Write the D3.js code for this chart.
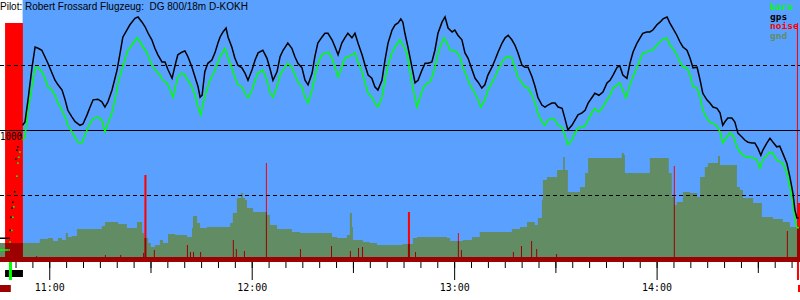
<!DOCTYPE html>
<html lang="de">
<head>
<meta charset="UTF-8">
<title>Barogramm D-KOKH</title>
<script src="https://cdn.jsdelivr.net/npm/d3@7"></script>
<style>
  body { margin: 0; background: #fff; }
  svg { display: block; }
</style>
</head>
<body>
<script>
    // minutes relative to 11:00, altitude in metres
    const title = "Pilot: Robert Frossard Flugzeug:  DG 800/18m D-KOKH";

    const gps = [
        [-14.6,175],[-12.2,175],[-11.9,175],
        [-11.6,235],[-11.4,335],[-11.1,405],[-10.8,450],[-10.2,530],[-9.9,780],[-9.6,850],[-9.3,875],[-8.4,965],
        [-7.9,1040],[-7.2,1065],[-6.3,1235],[-5.1,1485],[-4.2,1640],[-3.3,1630],[-2.2,1615],[-1.3,1565],[-0.4,1515],
        [0.8,1440],[1.7,1385],[2.6,1350],[3.8,1310],[4.7,1235],[5.5,1155],[6.7,1105],[7.6,1070],[9.1,1040],[10.0,1050],
        [11.2,1120],[12.1,1180],[13.0,1235],[14.4,1240],[15.6,1220],[16.5,1180],[17.4,1220],[18.6,1310],[20.1,1465],
        [21.0,1595],[21.8,1715],[23.0,1770],[23.9,1810],[25.4,1860],[26.3,1870],[27.5,1830],[28.4,1795],[29.3,1745],
        [30.4,1695],[31.3,1630],[32.2,1580],[33.4,1525],[34.3,1525],[35.2,1465],[36.4,1400],[37.3,1500],[38.1,1580],
        [39.3,1600],[40.2,1610],[41.1,1565],[42.3,1485],[43.2,1410],[44.1,1335],[44.7,1255],[45.3,1270],[46.1,1450],
        [47.0,1515],[48.2,1540],[49.1,1595],[50.0,1670],[50.6,1715],[51.5,1755],[52.4,1785],[53.0,1715],[54.1,1640],
        [55.0,1555],[55.9,1500],[57.1,1480],[58.0,1440],[58.9,1385],[60.1,1465],[61.0,1540],[61.9,1595],[63.3,1615],
        [64.5,1555],[65.5,1465],[66.3,1385],[67.5,1450],[68.4,1565],[69.3,1615],[70.7,1670],[71.9,1630],[72.8,1565],
        [73.7,1515],[74.9,1480],[75.8,1385],[76.7,1350],[77.9,1440],[78.7,1565],[79.6,1670],[80.8,1715],[81.7,1745],
        [82.6,1745],[83.8,1695],[84.7,1640],[85.6,1580],[86.7,1670],[87.6,1710],[88.5,1745],[89.7,1710],[90.6,1745],
        [91.5,1670],[92.7,1580],[93.6,1500],[94.5,1425],[95.6,1400],[96.5,1335],[97.4,1310],[98.6,1385],[99.5,1540],
        [100.4,1670],[101.6,1770],[102.5,1810],[103.4,1825],[104.2,1855],[104.8,1830],[105.4,1745],[106.3,1640],
        [107.5,1485],[108.4,1365],[109.3,1385],[110.5,1465],[111.4,1515],[112.3,1515],[113.4,1525],[114.3,1615],
        [115.2,1745],[116.4,1830],[117.3,1870],[118.2,1785],[119.4,1755],[120.2,1770],[121.1,1730],[122.3,1695],
        [123.2,1595],[124.1,1555],[125.3,1465],[126.2,1400],[127.1,1370],[128.2,1325],[129.1,1350],[130.0,1425],
        [131.2,1485],[132.1,1540],[133.0,1600],[134.2,1670],[135.1,1710],[136.0,1730],[137.1,1695],[138.0,1655],
        [138.9,1595],[140.1,1500],[141.0,1485],[141.9,1485],[143.1,1410],[144.0,1335],[144.8,1255],[146.0,1195],
        [146.9,1180],[147.8,1195],[149.0,1210],[149.9,1210],[150.8,1180],[152.0,1170],[152.8,1095],[153.7,1005],
        [154.9,1040],[155.8,1080],[156.7,1120],[157.9,1135],[158.8,1155],[159.7,1210],[160.9,1255],[161.7,1285],
        [162.9,1270],[164.1,1295],[165.3,1365],[166.2,1385],[167.1,1425],[168.3,1485],[169.1,1495],[170.0,1425],
        [171.2,1400],[172.1,1515],[173.0,1600],[174.2,1670],[175.1,1710],[175.9,1745],[177.1,1755],[178.0,1755],
        [178.9,1770],[180.1,1810],[181.0,1830],[181.9,1855],[183.1,1870],[183.9,1825],[184.8,1785],[186.0,1730],
        [186.9,1680],[187.8,1640],[189.0,1615],[189.9,1555],[190.8,1480],[192.0,1485],[192.9,1385],[193.7,1285],
        [194.9,1235],[195.8,1210],[196.7,1180],[197.9,1170],[198.8,1135],[199.6,1040],[200.2,1065],[201.1,1095],
        [202.3,1095],[203.2,1065],[204.1,980],[205.3,950],[206.2,925],[207.1,910],[208.3,905],[209.1,905],
        [210.0,865],[210.9,810],[211.5,850],[212.7,905],[213.6,940],[214.5,910],[215.6,875],[216.5,880],
        [217.4,825],[218.6,750],[219.5,645],[220.4,520],[221.0,390],[221.6,330],[222.2,330]
    ];

    const baro = [
        [-14.6,85],[-12.2,85],[-11.9,85],
        [-11.6,145],[-11.1,235],[-10.8,335],[-10.5,415],[-10.2,530],[-9.6,650],[-9.3,750],[-9.0,795],[-8.7,835],
        [-7.8,925],[-7.2,950],[-6.3,1155],[-5.1,1335],[-4.2,1480],[-3.3,1485],[-2.2,1450],[-1.3,1400],[-0.4,1335],
        [0.8,1310],[1.7,1270],[2.6,1210],[3.8,1155],[4.7,1105],[5.5,1040],[6.7,990],[7.6,950],[8.5,910],[9.7,905],
        [10.6,965],[11.5,1025],[12.7,1080],[13.5,1095],[14.4,1105],[15.6,1080],[16.5,990],[17.4,1055],[18.6,1135],
        [19.5,1235],[20.4,1365],[21.5,1465],[22.4,1540],[23.3,1615],[24.5,1655],[26.0,1710],[26.9,1680],[27.8,1640],
        [28.9,1600],[29.8,1540],[30.7,1485],[31.9,1450],[32.8,1425],[33.7,1385],[34.9,1365],[35.8,1310],[36.7,1255],
        [37.3,1325],[38.1,1410],[39.3,1440],[40.2,1425],[41.1,1385],[42.3,1335],[43.2,1270],[44.1,1180],[44.9,1120],
        [45.6,1210],[46.7,1310],[47.6,1385],[48.5,1425],[49.7,1500],[50.6,1565],[52.1,1630],[53.0,1555],[54.1,1480],
        [55.0,1410],[55.9,1350],[57.1,1335],[58.0,1285],[58.9,1250],[60.1,1310],[61.0,1385],[61.9,1440],[63.3,1465],
        [64.5,1385],[65.5,1285],[66.3,1255],[67.5,1335],[68.4,1425],[69.3,1465],[70.7,1515],[71.9,1485],[72.8,1425],
        [73.7,1370],[74.9,1335],[75.8,1255],[76.7,1210],[77.9,1310],[78.7,1410],[79.6,1515],[80.8,1580],[81.7,1595],
        [82.6,1600],[83.8,1555],[84.7,1485],[85.6,1410],[86.7,1485],[87.6,1555],[88.5,1565],[89.7,1580],[90.6,1595],
        [91.5,1525],[92.7,1450],[93.6,1365],[94.5,1285],[95.6,1255],[96.5,1210],[97.4,1180],[98.6,1255],[99.5,1385],
        [100.4,1500],[101.6,1595],[102.5,1640],[103.9,1695],[104.8,1655],[106.0,1595],[106.9,1450],[107.8,1325],
        [109.0,1180],[109.9,1255],[110.8,1325],[112.0,1365],[112.8,1370],[113.7,1425],[114.9,1555],[115.8,1640],
        [117.0,1710],[117.9,1670],[118.8,1615],[119.6,1615],[120.8,1600],[121.7,1565],[122.6,1485],[123.8,1410],
        [124.7,1350],[125.6,1310],[126.8,1255],[127.9,1180],[129.1,1235],[130.0,1310],[131.2,1365],[132.1,1410],
        [133.0,1465],[134.2,1525],[135.1,1555],[136.0,1570],[137.1,1555],[138.0,1485],[138.9,1410],[140.1,1365],
        [141.0,1335],[141.9,1325],[143.1,1270],[144.0,1210],[144.8,1135],[146.0,1065],[146.9,1040],[147.8,1080],
        [149.0,1095],[149.9,1080],[150.8,1040],[152.0,1025],[152.8,965],[153.7,890],[154.9,925],[155.8,980],
        [156.7,1020],[157.9,1025],[158.8,1035],[159.7,1080],[160.9,1140],[161.7,1170],[162.9,1140],[164.1,1180],
        [165.3,1235],[166.2,1270],[167.1,1325],[168.3,1350],[169.1,1365],[170.0,1310],[170.9,1250],[172.1,1350],
        [173.0,1410],[174.2,1485],[175.1,1540],[175.9,1595],[177.1,1600],[178.0,1615],[178.9,1615],[180.1,1655],
        [181.0,1680],[181.9,1700],[183.1,1710],[183.9,1655],[184.8,1630],[186.0,1580],[186.9,1525],[187.8,1485],
        [189.0,1480],[189.9,1425],[190.8,1335],[192.0,1325],[192.9,1255],[193.7,1155],[194.9,1095],[195.8,1065],
        [196.7,1055],[197.9,1035],[198.8,990],[199.6,905],[200.8,950],[201.7,980],[202.6,965],[203.8,875],
        [204.7,835],[205.6,810],[206.8,795],[207.7,795],[208.6,790],[209.7,775],[210.6,710],[211.5,775],
        [212.7,810],[213.6,835],[214.5,825],[215.6,775],[216.5,760],[217.4,750],[218.6,675],[219.5,565],
        [220.4,445],[221.0,315],[221.6,255],[222.2,255]
    ];

    // ground elevation under the track (held until next sample)
    const gnd = [
        [-14.6,138],[-2.8,169],[-0.4,176],[1.1,153],[2.6,176],[3.8,161],[4.9,214],[5.5,184],[6.7,192],[8.2,245],
        [15.6,268],[16.5,299],[20.4,283],[23.0,253],[26.0,299],[27.5,214],[28.1,176],[29.3,138],[30.1,107],[31.3,123],
        [32.8,161],[33.7,138],[35.2,207],[37.3,199],[40.8,184],[42.3,253],[42.6,345],[43.8,291],[44.7,253],[46.7,260],
        [53.6,291],[54.4,368],[55.6,483],[56.8,521],[57.4,483],[58.0,467],[58.6,406],[60.4,375],[64.5,352],[65.4,276],
        [67.5,245],[71.9,222],[74.3,214],[83.8,184],[85.3,176],[88.2,199],[89.1,368],[89.7,260],[90.0,161],[93.0,146],
        [95.0,138],[97.1,123],[104.8,130],[107.8,176],[109.0,184],[117.9,176],[118.8,153],[122.6,161],[125.3,184],
        [127.6,222],[137.1,245],[139.5,260],[141.6,299],[143.9,276],[144.8,329],[146.0,467],[146.3,620],[147.5,643],
        [150.5,697],[152.3,797],[152.8,697],[153.7,528],[157.3,567],[158.8,674],[159.7,789],[169.7,827],[170.3,812],
        [170.6,674],[178.0,789],[183.6,674],[184.5,490],[185.4,429],[186.0,452],[187.8,528],[189.9,521],[192.0,490],
        [192.9,643],[194.3,720],[195.2,751],[198.2,805],[198.8,735],[203.8,567],[204.7,544],[205.6,483],[208.6,444],
        [211.2,337],[214.5,322],[217.4,299],[219.5,260],[222.5,260]
    ];

    // engine noise level 0..1000 (held until next sample)
    const noise = [
        [-14.6,19],[-13.1,912],[-7.8,19],[-3.9,23],[-3.6,19],[16.5,27],[16.8,19],[21.0,27],[21.3,19],
        [27.8,34],[28.1,19],[28.2,332],[28.8,19],[31.0,46],[31.3,19],[40.8,65],[41.1,19],[41.7,38],[42.0,19],
        [42.6,38],[42.9,19],[44.7,38],[45.0,19],[54.4,84],[54.7,19],[55.3,50],[55.6,19],[57.7,42],[58.0,19],
        [64.2,378],[64.5,19],[74.3,50],[74.6,19],[83.5,61],[83.8,19],[89.1,42],[89.4,19],[91.5,53],[91.8,19],
        [92.7,57],[93.0,19],[106.3,191],[106.9,19],[108.4,38],[108.7,19],[121.1,111],[121.4,19],[122.0,46],[122.3,19],
        [137.4,38],[137.7,19],[139.8,61],[140.1,19],[142.8,80],[143.1,19],[144.3,50],[144.6,19],[150.2,31],[150.5,19],
        [185.1,366],[185.4,19],[218.6,118],[218.9,19],[221.6,912],[221.9,225],[222.5,225]
    ];

    const refLines = [500, 1000, 1500];
    const takeoff = -11.5, release = -7.9, landing = 221.9;
    const engineRun = [-13.1, -7.8];
    const legendNames = ["baro", "gps", "noise", "gnd"];
    const legendColors = {"baro": "#00ff00", "gps": "#000000", "noise": "#ff0000", "gnd": "#628c64"};

    let W = 800, H = 300, bottom = 262;
    let svg = d3.select('body').append('svg')
        .attr('width', W).attr('height', H)
        .style('font-family', 'DejaVu Sans Mono, monospace');

    let x = d3.scaleLinear().domain([-14.6, 222.5]).range([0, W]);
    let y = d3.scaleLinear().domain([0, 2000]).range([261, 0]);
    let yN = d3.scaleLinear().domain([0, 1000]).range([bottom, 0]);

    // sky
    svg.append('rect')
        .attr('x', x(release)).attr('y', 0)
        .attr('width', W - x(release)).attr('height', bottom)
        .attr('fill', '#5aa0ff');

    let noiseArea = d3.area().curve(d3.curveStepAfter)
        .x(d => x(d[0])).y0(bottom).y1(d => yN(d[1]));
    let gndArea = d3.area().curve(d3.curveStepAfter)
        .x(d => x(d[0])).y0(bottom).y1(d => y(d[1]));

    svg.append('defs').append('clipPath').attr('id', 'gndclip')
        .append('path').attr('d', gndArea(gnd));

    svg.append('path').attr('d', noiseArea(noise)).attr('fill', '#ff0000');
    svg.append('path').attr('d', gndArea(gnd)).attr('fill', legendColors.gnd);
    svg.append('path').attr('d', noiseArea(noise)).attr('fill', '#9c0000')
        .attr('clip-path', 'url(#gndclip)');

    // reference altitudes
    svg.selectAll('line.ref')
        .data(refLines)
        .enter()
        .append('line')
        .attr('class', 'ref')
        .attr('x1', 0).attr('x2', W)
        .attr('y1', d => Math.floor(y(d)) + 0.5)
        .attr('y2', d => Math.floor(y(d)) + 0.5)
        .attr('stroke', '#000')
        .attr('stroke-width', 1)
        .attr('stroke-dasharray', d => d === 1000 ? null : '4,3');

    svg.append('text')
        .attr('x', 0).attr('y', 140)
        .attr('font-size', '10px')
        .attr('textLength', 22).attr('lengthAdjust', 'spacingAndGlyphs')
        .text('1000');

    // barogram lines; tow climb drawn as single fixes
    let inTow = d => d[0] > takeoff - 0.5 && d[0] < release;
    let altLine = d3.line().defined(d => !inTow(d))
        .x(d => x(d[0])).y(d => y(d[1]));

    [['baro', baro], ['gps', gps]].forEach(function (s) {
        svg.append('path')
            .attr('d', altLine(s[1]))
            .attr('fill', 'none')
            .attr('stroke', legendColors[s[0]])
            .attr('stroke-width', 1.5);
        svg.selectAll('rect.dot-' + s[0])
            .data(s[1].filter(inTow))
            .enter()
            .append('rect')
            .attr('class', 'dot-' + s[0])
            .attr('x', d => x(d[0]) - 0.8)
            .attr('y', d => y(d[1]) - 0.8)
            .attr('width', 1.6).attr('height', 1.6)
            .attr('fill', legendColors[s[0]]);
    });

    // title
    svg.append('text')
        .attr('x', 0).attr('y', 10)
        .style('font-family', 'Liberation Sans, Arial, sans-serif')
        .style('white-space', 'pre')
        .attr('font-size', '10px')
        .text(title);

    // legend
    svg.selectAll('text.legend')
        .data(legendNames)
        .enter()
        .append('text')
        .attr('class', 'legend')
        .attr('x', 770)
        .attr('y', (d, i) => 10 + i * 9.7)
        .attr('font-size', '9.5px')
        .attr('font-weight', 'bold')
        .attr('fill', d => legendColors[d])
        .text(d => d);

    // time axis: 5 min, 30 min and hour ticks
    let minor = d3.range(-10, 221, 5);
    let half = minor.filter(t => ((t % 60) + 60) % 60 === 30);
    let hours = minor.filter(t => ((t % 60) + 60) % 60 === 0);

    function tickAxis(vals, size) {
        let g = svg.append('g').attr('transform', 'translate(0,' + bottom + ')')
            .call(d3.axisBottom(x).tickValues(vals).tickSize(size).tickFormat(''));
        g.select('.domain').remove();
        return g;
    }
    tickAxis(minor, 6);
    tickAxis(half, 11);
    let hg = tickAxis(hours, 18);
    hg.call(d3.axisBottom(x).tickValues(hours).tickSize(18).tickPadding(3)
        .tickFormat(t => (11 + t / 60) + ':00'));
    hg.select('.domain').remove();
    hg.selectAll('text')
        .attr('font-size', '11px')
        .attr('font-family', 'DejaVu Sans Mono, monospace')
        .attr('fill', '#000')
        .attr('textLength', 30).attr('lengthAdjust', 'spacingAndGlyphs');

    // takeoff / engine / landing markers
    svg.append('rect')
        .attr('x', x(engineRun[0])).attr('y', 270)
        .attr('width', x(engineRun[1]) - x(engineRun[0])).attr('height', 7)
        .attr('fill', '#000');
    svg.append('rect')
        .attr('x', x(takeoff) - 1.5).attr('y', bottom)
        .attr('width', 3).attr('height', 18)
        .attr('fill', '#00ff00');
    svg.append('rect')
        .attr('x', x(landing) - 1).attr('y', bottom)
        .attr('width', 2).attr('height', 18)
        .attr('fill', '#ff0000');
    svg.append('rect')
        .attr('x', 0).attr('y', 285)
        .attr('width', x(takeoff + 0.1)).attr('height', 7)
        .attr('fill', '#9c0000');
    svg.append('rect')
        .attr('x', x(landing)).attr('y', 285)
        .attr('width', W - x(landing)).attr('height', 7)
        .attr('fill', '#ff0000');
</script>
</body>
</html>
